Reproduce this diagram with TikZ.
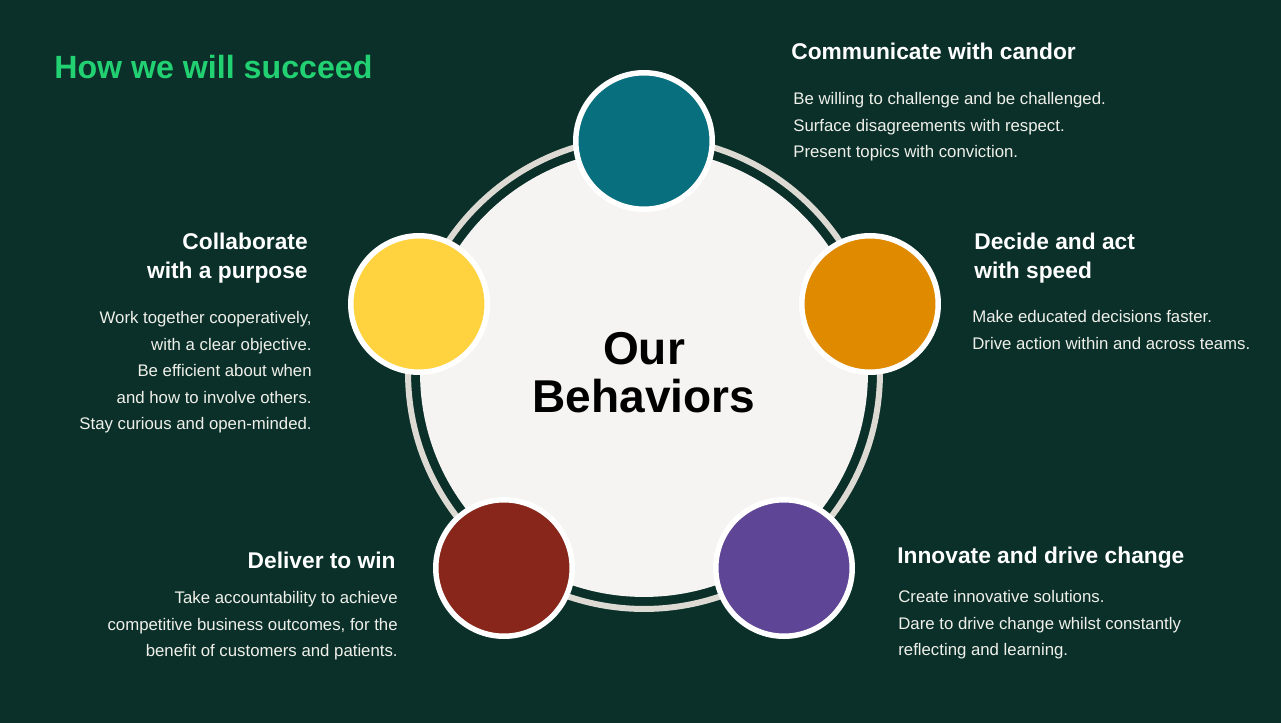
\documentclass[tikz,border=0pt]{standalone}
\usepackage{fontspec}
\setmainfont{Liberation Sans}
\usetikzlibrary{positioning}

\definecolor{BgGreen}{HTML}{0A3029}
\definecolor{RingGrey}{HTML}{DDDAD3}
\definecolor{CoreFill}{HTML}{F5F4F2}
\definecolor{TitleGreen}{HTML}{22D172}
\definecolor{BodyWhite}{HTML}{F0F0EA}
\definecolor{Teal}{HTML}{086F7F}
\definecolor{Amber}{HTML}{E08A00}
\definecolor{Sun}{HTML}{FFD23F}
\definecolor{Brick}{HTML}{88261B}
\definecolor{Violet}{HTML}{5F4595}

\begin{document}
\begin{tikzpicture}[x=0.02cm, y=-0.02cm]

      \tikzstyle{Behavior} = [
      circle,
      draw=white,
      line width=0.11cm,
      minimum size=2.73cm,
      inner sep=0pt
      ]

      \tikzstyle{Heading} = [
      inner sep=0pt,
      text=white,
      font=\fontsize{12.95pt}{16.4pt}\selectfont\bfseries
      ]

      \tikzstyle{Body} = [
      inner sep=0pt,
      text=BodyWhite,
      font=\fontsize{9.55pt}{15.1pt}\selectfont
      ]

      % background and frame
      \fill [BgGreen] (0,0) rectangle (1281,723);
      \useasboundingbox (0,0) rectangle (1281,723);

      \node (Title) [anchor=north west, inner sep=0pt, text=TitleGreen,
        font=\fontsize{18.3pt}{22pt}\selectfont\bfseries] at (54,55) {How we will succeed};

      % the big circle
      \node (Ring) [circle, draw=RingGrey, line width=0.12cm, minimum size=9.44cm] at (644,373) {};
      \node (Core) [circle, fill=CoreFill, minimum size=8.96cm, align=center,
        font=\fontsize{26.2pt}{27.3pt}\selectfont\bfseries] at (644,373) {Our\\Behaviors};

      % the five behaviors
      \node (Communicate) [Behavior, fill=Teal] at (644,141) {};
      \node (Decide) [Behavior, fill=Amber] at (870,304) {};
      \node (Innovate) [Behavior, fill=Violet] at (784,568) {};
      \node (Deliver) [Behavior, fill=Brick] at (504,568) {};
      \node (Collaborate) [Behavior, fill=Sun] at (419,304) {};

      \node (CommunicateHead) [Heading, anchor=north west] at (791,43) {Communicate with candor};
      \node (CommunicateBody) [Body, anchor=north west, align=left] at (793,92) {
        Be willing to challenge and be challenged.\\
        Surface disagreements with respect.\\
        Present topics with conviction.
      };

      \node (DecideHead) [Heading, anchor=north west, align=left] at (974,233) {
        Decide and act\\
        with speed
      };
      \node (DecideBody) [Body, anchor=north west, align=left] at (972,310) {
        Make educated decisions faster.\\
        Drive action within and across teams.
      };

      \node (InnovateHead) [Heading, anchor=north west] at (897,547) {Innovate and drive change};
      \node (InnovateBody) [Body, anchor=north west, align=left] at (898,590) {
        Create innovative solutions.\\
        Dare to drive change whilst constantly\\
        reflecting and learning.
      };

      \node (DeliverHead) [Heading, anchor=north east] at (396,552) {Deliver to win};
      \node (DeliverBody) [Body, anchor=north east, align=right] at (398,591) {
        Take accountability to achieve\\
        competitive business outcomes, for the\\
        benefit of customers and patients.
      };

      \node (CollaborateHead) [Heading, anchor=north east, align=right] at (308,233) {
        Collaborate\\
        with a purpose
      };
      \node (CollaborateBody) [Body, anchor=north east, align=right] at (312,311) {
        Work together cooperatively,\\
        with a clear objective.\\
        Be efficient about when\\
        and how to involve others.\\
        Stay curious and open-minded.
      };

    \end{tikzpicture}
\end{document}
